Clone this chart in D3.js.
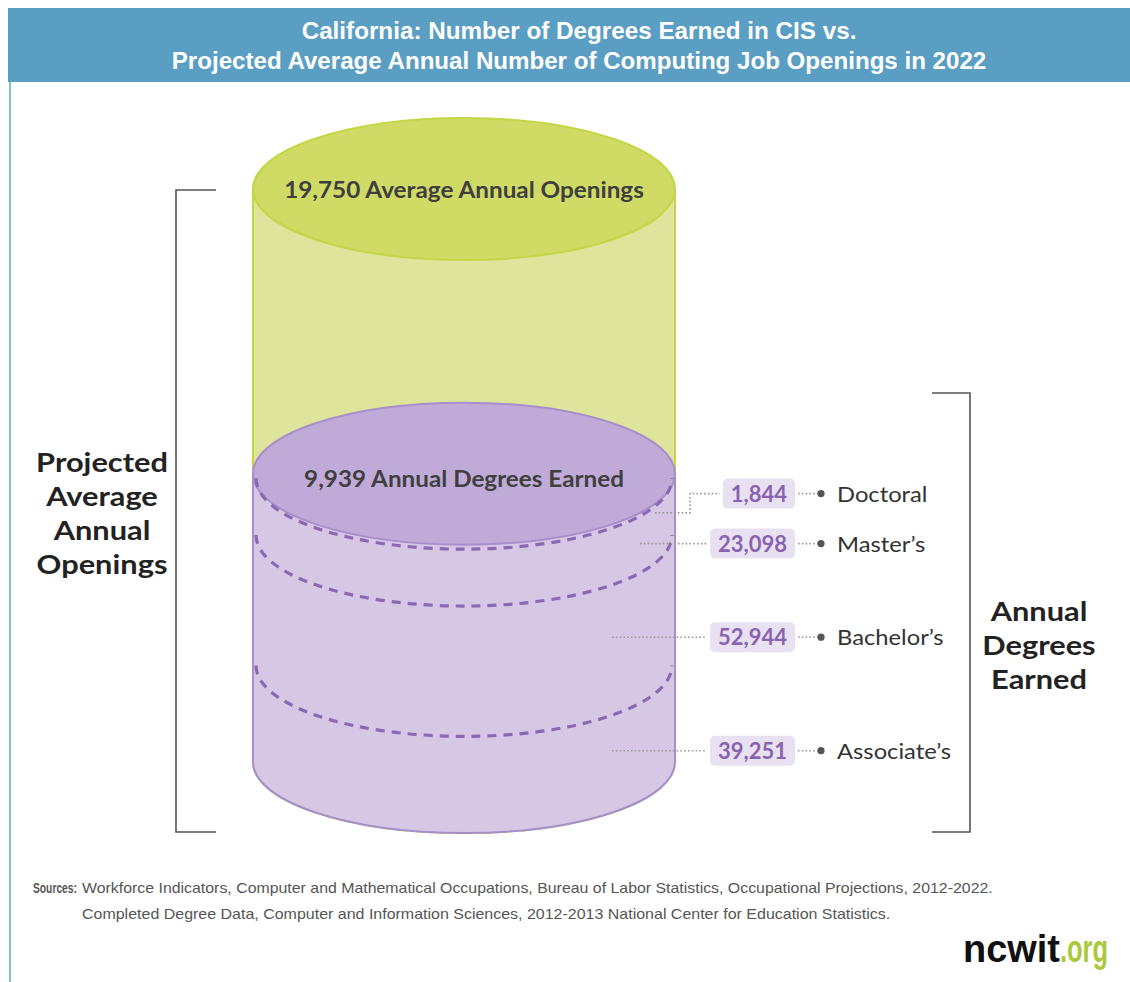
<!DOCTYPE html>
<html>
<head>
<meta charset="utf-8">
<script src="https://cdn.jsdelivr.net/npm/d3@7"></script>
<style>
  html, body { margin: 0; padding: 0; background: #ffffff; }
  svg { display: block; }
</style>
</head>
<body>
<svg id="chart" width="1130" height="982"></svg>
<script>
// ---- data ----
const titleLines = [
  "California: Number of Degrees Earned in CIS vs.",
  "Projected Average Annual Number of Computing Job Openings in 2022"
];
const openings = 19750;          // projected average annual openings
const degreesEarned = 9939;      // annual degrees earned
const degreeLevels = ["Doctoral", "Master\u2019s", "Bachelor\u2019s", "Associate\u2019s"];
const degreeValues = [1844, 23098, 52944, 39251];
const leftLabel = ["Projected", "Average", "Annual", "Openings"];
const rightLabel = ["Annual", "Degrees", "Earned"];
const sourceLines = [
  "Workforce Indicators, Computer and Mathematical Occupations, Bureau of Labor Statistics, Occupational Projections, 2012-2022.",
  "Completed Degree Data, Computer and Information Sciences, 2012-2013 National Center for Education Statistics."
];

// ---- layout ----
const svg = d3.select("#chart");
const fmt = d3.format(",");
const cx = 464, rx = 211, ry = 71;
const baseY = 762, topY = 189;
const sans = "'Liberation Sans', Arial, sans-serif";
const rounded = "Lato, 'Open Sans', sans-serif";

// place a text at (x, y) and stretch/condense it horizontally,
// either to a fixed width or by a fixed factor
function place(sel, x, y, opts) {
  sel.each(function (d, i) {
    const node = this;
    const el = d3.select(node).attr("x", 0).attr("y", 0);
    const px = typeof x === "function" ? x(d, i) : x;
    const py = typeof y === "function" ? y(d, i) : y;
    let k = 1;
    if (opts && opts.width) {
      const w = typeof opts.width === "function" ? opts.width(d, i) : opts.width;
      k = w / node.getComputedTextLength();
    } else if (opts && opts.k) {
      k = opts.k;
    }
    el.attr("transform", `translate(${px},${py}) scale(${k},1)`);
  });
}

// vertical value scale for the cylinders
const y = d3.scaleLinear().domain([0, openings]).range([baseY, topY]);

// header band
svg.append("rect").attr("x", 8).attr("y", 8).attr("width", 1122).attr("height", 74)
  .attr("fill", "#5a9ec4");
svg.append("line").attr("x1", 10).attr("x2", 10).attr("y1", 82).attr("y2", 982)
  .attr("stroke", "#86bcd9").attr("stroke-width", 2);

const titleWidths = [555, 815];
svg.selectAll("text.title").data(titleLines).join("text")
  .attr("class", "title")
  .attr("text-anchor", "middle")
  .attr("font-family", sans).attr("font-weight", "bold").attr("font-size", 24)
  .attr("fill", "#ffffff")
  .text(d => d)
  .call(place, 579, (d, i) => 39 + i * 30, { width: (d, i) => titleWidths[i] });

// cylinder helper: body (rect + rounded bottom) and top ellipse
function cylinder(g, top, bottom, bodyFill, topFill, stroke) {
  g.append("path")
    .attr("d", `M${cx - rx},${top} L${cx - rx},${bottom} A${rx},${ry} 0 0 0 ${cx + rx},${bottom} L${cx + rx},${top} Z`)
    .attr("fill", bodyFill).attr("stroke", stroke).attr("stroke-width", 2);
  g.append("ellipse")
    .attr("cx", cx).attr("cy", top).attr("rx", rx).attr("ry", ry)
    .attr("fill", topFill).attr("stroke", stroke).attr("stroke-width", 2);
}

const cyl = svg.append("g");
cylinder(cyl, y(openings), y(0), "#dfe49c", "#d0db66", "#c3d645");
const purpleTop = y(degreesEarned);
cylinder(cyl, purpleTop, y(0), "#d6c8e4", "#c0abd8", "#a78fca");

// degree segments stacked within the purple cylinder
const seg = d3.scaleLinear().domain([0, d3.sum(degreeValues)]).range([purpleTop, y(0)]);
const cum = d3.cumsum(degreeValues);
const segTop = degreeValues.map((v, i) => seg(cum[i] - v));
const segBot = degreeValues.map((v, i) => seg(cum[i]));

// dashed dividers between segments
cyl.selectAll("path.divider").data(segBot.slice(0, -1)).join("path")
  .attr("class", "divider")
  .attr("d", d => `M${cx - rx + 3},${d} A${rx - 3},${ry} 0 0 0 ${cx + rx - 3},${d}`)
  .attr("fill", "none").attr("stroke", "#8a68b4").attr("stroke-width", 3.2)
  .attr("stroke-dasharray", "9 7");

// cylinder captions
cyl.append("text")
  .attr("text-anchor", "middle").attr("font-family", rounded).attr("font-weight", "bold")
  .attr("font-size", 22).attr("fill", "#3f3f3f")
  .text(`${fmt(openings)} Average Annual Openings`)
  .call(place, cx, y(openings) + 9, { width: 360 });
cyl.append("text")
  .attr("text-anchor", "middle").attr("font-family", rounded).attr("font-weight", "bold")
  .attr("font-size", 22).attr("fill", "#3f3f3f")
  .text(`${fmt(degreesEarned)} Annual Degrees Earned`)
  .call(place, cx, purpleTop + 13, { width: 320 });

// value labels: each row sits beside its segment, pushed apart if crowded
const natural = degreeValues.map((v, i) => (segTop[i] + segBot[i]) / 2 + 37);
const rowY = natural.slice();
for (let i = rowY.length - 2; i >= 0; i--) rowY[i] = Math.min(rowY[i], rowY[i + 1] - 50);
const leaderStart = [cx + 191, cx + 176, cx + 148, cx + 148];
const boxRight = 795, elbowX = 690;

const rows = svg.append("g").selectAll("g").data(degreeLevels).join("g");
rows.each(function (name, i) {
  const g = d3.select(this);
  const label = fmt(degreeValues[i]);
  const t = g.append("text").attr("x", boxRight - 8).attr("y", rowY[i])
    .attr("dy", "0.36em").attr("text-anchor", "end")
    .attr("font-family", rounded).attr("font-weight", "bold").attr("font-size", 22)
    .attr("fill", "#8a62b2").text(label);
  const w = t.node().getComputedTextLength();
  const boxLeft = boxRight - w - 16;
  g.insert("rect", "text").attr("x", boxLeft).attr("y", rowY[i] - 15)
    .attr("width", w + 16).attr("height", 30).attr("rx", 5).attr("fill", "#e8e1f1");

  const dotted = { stroke: "#9a9a9a", "stroke-width": 1.6, "stroke-dasharray": "1.6 2.2", fill: "none" };
  let pts;
  if (Math.abs(rowY[i] - natural[i]) > 1) {
    pts = [[leaderStart[i], natural[i]], [elbowX, natural[i]], [elbowX, rowY[i]], [boxLeft - 3, rowY[i]]];
  } else {
    pts = [[leaderStart[i], rowY[i]], [boxLeft - 3, rowY[i]]];
  }
  const lp = g.append("path").attr("d", d3.line()(pts));
  Object.entries(dotted).forEach(([k, v]) => lp.attr(k, v));
  const rp = g.append("path").attr("d", d3.line()([[boxRight + 3, rowY[i]], [818, rowY[i]]]));
  Object.entries(dotted).forEach(([k, v]) => rp.attr(k, v));
  g.append("circle").attr("cx", 821).attr("cy", rowY[i]).attr("r", 3.6).attr("fill", "#555");
  g.append("text").attr("dy", "0.36em")
    .attr("font-family", rounded).attr("font-size", 22).attr("fill", "#333")
    .text(name)
    .call(place, 837, rowY[i], { k: 1.08 });
});

// brackets
const bracket = d3.line();
svg.append("path").attr("d", bracket([[216, 190], [176, 190], [176, 832], [216, 832]]))
  .attr("fill", "none").attr("stroke", "#555").attr("stroke-width", 1.6);
svg.append("path").attr("d", bracket([[932, 393], [970, 393], [970, 832], [932, 832]]))
  .attr("fill", "none").attr("stroke", "#555").attr("stroke-width", 1.6);

svg.selectAll("text.left").data(leftLabel).join("text").attr("class", "left")
  .attr("text-anchor", "middle")
  .attr("font-family", rounded).attr("font-weight", "bold").attr("font-size", 27)
  .attr("fill", "#222").text(d => d)
  .call(place, 102, (d, i) => 472 + i * 34, { k: 1.14 });
svg.selectAll("text.right").data(rightLabel).join("text").attr("class", "right")
  .attr("text-anchor", "middle")
  .attr("font-family", rounded).attr("font-weight", "bold").attr("font-size", 27)
  .attr("fill", "#222").text(d => d)
  .call(place, 1039, (d, i) => 621 + i * 34, { k: 1.14 });

// sources
svg.append("text")
  .attr("font-family", sans).attr("font-weight", "bold").attr("font-size", 14)
  .attr("fill", "#555").text("Sources:")
  .call(place, 33, 893, { width: 44 });
const srcWidths = [911, 809];
svg.selectAll("text.src").data(sourceLines).join("text").attr("class", "src")
  .attr("font-family", sans).attr("font-size", 14).attr("fill", "#555")
  .text(d => d)
  .call(place, 82, (d, i) => 893 + i * 26, { width: (d, i) => srcWidths[i] });

// logo
svg.append("text")
  .attr("font-family", sans).attr("font-weight", "bold").attr("font-size", 38)
  .attr("fill", "#111").text("ncwit")
  .call(place, 963, 962, { width: 97 });
svg.append("text")
  .attr("font-family", sans).attr("font-weight", "bold").attr("font-size", 38)
  .attr("fill", "#a9c93c").text(".org")
  .call(place, 1060, 962, { width: 48 });
</script>
</body>
</html>
